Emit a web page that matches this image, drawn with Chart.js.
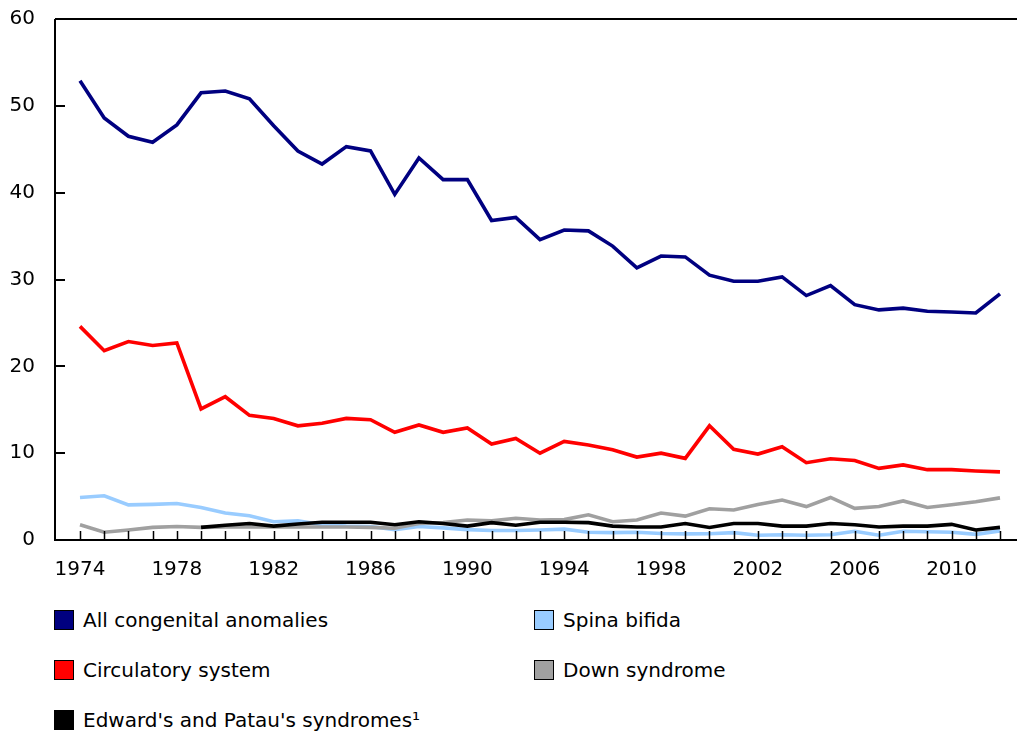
<!DOCTYPE html>
<html>
<head>
<meta charset="utf-8">
<script src="https://cdn.jsdelivr.net/npm/chart.js@4.4.1/dist/chart.umd.min.js"></script>
<style>
  html, body { margin: 0; padding: 0; background: #fff; }
  #wrap { position: relative; width: 1017px; height: 731px; font-family: "DejaVu Sans", Verdana, sans-serif; }
  #c { position: absolute; left: 0; top: 0; }
  .lg { position: absolute; display: flex; align-items: center; font-size: 20px; color: #000; white-space: nowrap; }
  .sw { width: 20px; height: 20px; border: 1.5px solid #000; box-sizing: border-box; margin-right: 9px; }
</style>
</head>
<body>
<div id="wrap">
  <canvas id="c" width="1017" height="580"></canvas>
</div>
<script>
const years = [];
for (let y = 1974; y <= 2012; y++) years.push(y);

const allAnomalies = [52.9, 48.6, 46.5, 45.8, 47.8, 51.5, 51.7, 50.8, 47.7, 44.8,
  43.3, 45.3, 44.8, 39.8, 44.0, 41.5, 41.5, 36.8, 37.15, 34.6,
  35.7, 35.6, 33.85, 31.35, 32.7, 32.6, 30.5, 29.8, 29.8, 30.3,
  28.15, 29.3, 27.1, 26.5, 26.7, 26.35, 26.25, 26.15, 28.35];
const circulatory = [24.6, 21.8, 22.85, 22.4, 22.7, 15.1, 16.5, 14.35, 14.0, 13.15,
  13.45, 14.0, 13.85, 12.4, 13.25, 12.4, 12.9, 11.05, 11.7, 10.0,
  11.35, 10.95, 10.4, 9.55, 10.0, 9.4, 13.15, 10.45, 9.9, 10.75,
  8.9, 9.35, 9.15, 8.25, 8.65, 8.1, 8.1, 7.95, 7.85];
const spinaBifida = [4.9, 5.1, 4.05, 4.1, 4.2, 3.75, 3.1, 2.8, 2.1, 2.2,
  1.75, 1.6, 1.55, 1.2, 1.55, 1.4, 1.2, 1.1, 1.1, 1.15,
  1.25, 0.9, 0.85, 0.9, 0.75, 0.7, 0.72, 0.85, 0.55, 0.6,
  0.55, 0.6, 1.0, 0.55, 1.0, 0.95, 0.9, 0.65, 1.05];
const downSyndrome = [1.75, 0.9, 1.15, 1.45, 1.55, 1.45, 1.5, 1.5, 1.5, 1.5,
  1.5, 1.5, 1.45, 1.35, 1.9, 2.0, 2.3, 2.2, 2.5, 2.3,
  2.35, 2.9, 2.1, 2.3, 3.1, 2.75, 3.6, 3.45, 4.1, 4.6,
  3.85, 4.9, 3.65, 3.85, 4.5, 3.75, 4.05, 4.4, 4.85];
const edwardPatau = [null, null, null, null, null, 1.45, 1.7, 1.9, 1.6, 1.85,
  2.05, 2.05, 2.05, 1.75, 2.1, 1.9, 1.6, 2.0, 1.7, 2.05,
  2.05, 2.0, 1.6, 1.5, 1.5, 1.9, 1.45, 1.9, 1.9, 1.6,
  1.6, 1.9, 1.75, 1.5, 1.6, 1.6, 1.8, 1.15, 1.45];

const seriesNames = ["All congenital anomalies", "Circulatory system", "Spina bifida", "Down syndrome", "Edward's and Patau's syndromes\u00b9"];
const seriesColors = ["#000080", "#ff0000", "#99ccff", "#a0a0a0", "#000000"];
const yTicks = [0, 10, 20, 30, 40, 50, 60];
const labelYears = [1974, 1978, 1982, 1986, 1990, 1994, 1998, 2002, 2006, 2010];

const seriesValues = [allAnomalies, circulatory, spinaBifida, downSyndrome, edwardPatau];
const drawOrder = [4, 3, 2, 1, 0];

const datasets = seriesValues.map((vals, i) => ({
  label: seriesNames[i],
  data: years.map((yr, j) => ({ x: yr, y: vals[j] })),
  borderColor: seriesColors[i],
  backgroundColor: seriesColors[i],
  borderWidth: 3.6,
  pointRadius: 0,
  tension: 0,
  spanGaps: false,
  order: drawOrder[i],
  borderJoinStyle: 'miter'
}));

const axisPlugin = {
  id: 'axisPlugin',
  afterDraw(chart) {
    const ctx = chart.ctx;
    const a = chart.chartArea;
    const xs = chart.scales.x, ys = chart.scales.y;
    ctx.save();
    ctx.strokeStyle = '#000';
    ctx.lineWidth = 2;
    ctx.beginPath();
    ctx.moveTo(a.left, a.top); ctx.lineTo(a.right, a.top);
    ctx.moveTo(a.left, a.top); ctx.lineTo(a.left, a.bottom);
    ctx.moveTo(a.left - 1, a.bottom); ctx.lineTo(a.right, a.bottom);
    ctx.stroke();
    ctx.lineWidth = 1.5;
    ctx.beginPath();
    years.forEach(yr => {
      const px = Math.round(xs.getPixelForValue(yr)) + 0.5;
      ctx.moveTo(px, a.bottom); ctx.lineTo(px, a.bottom - 9);
    });
    ctx.stroke();
    ctx.lineWidth = 2;
    ctx.beginPath();
    yTicks.forEach(v => {
      if (v === 0 || v === 60) return;
      const py = Math.round(ys.getPixelForValue(v));
      ctx.moveTo(a.left, py); ctx.lineTo(a.left + 10, py);
    });
    ctx.stroke();
    ctx.restore();
  }
};

function noPad(scale) {
  scale.paddingTop = 0; scale.paddingBottom = 0;
  scale.paddingLeft = 0; scale.paddingRight = 0;
}

const pxPerYear = 920 / 38;
new Chart(document.getElementById('c'), {
  type: 'line',
  data: { datasets },
  options: {
    responsive: false,
    animation: false,
    layout: { padding: { left: 0, right: 0, top: 19, bottom: 0 } },
    plugins: { legend: { display: false }, tooltip: { enabled: false } },
    scales: {
      x: {
        type: 'linear',
        min: 1974 - 25 / pxPerYear,
        max: 2012 + 17 / pxPerYear,
        afterBuildTicks(scale) { scale.ticks = years.map(v => ({ value: v })); },
        afterFit(scale) { scale.height = 40; noPad(scale); },
        grid: { display: false, drawTicks: false },
        border: { display: false },
        ticks: {
          autoSkip: false, maxRotation: 0, padding: 18,
          color: '#000',
          font: { family: "DejaVu Sans", size: 20 },
          callback: v => labelYears.includes(v) ? String(v) : ''
        }
      },
      y: {
        min: 0, max: 60,
        afterBuildTicks(scale) { scale.ticks = yTicks.map(v => ({ value: v })); },
        afterFit(scale) { scale.width = 55; noPad(scale); },
        grid: { display: false, drawTicks: false },
        border: { display: false },
        ticks: {
          padding: 20, color: '#000',
          font: { family: "DejaVu Sans", size: 20 }
        }
      }
    }
  },
  plugins: [axisPlugin]
});

// HTML legend (two columns)
const legendPos = [[54, 609], [54, 659], [54, 709], [534, 609], [534, 659]];
const legendIdx = [0, 1, 4, 2, 3];
const wrap = document.getElementById('wrap');
legendIdx.forEach((si, k) => {
  const d = document.createElement('div');
  d.className = 'lg';
  d.style.left = legendPos[k][0] + 'px';
  d.style.top = legendPos[k][1] + 'px';
  d.style.height = '21px';
  const sw = document.createElement('span');
  sw.className = 'sw';
  sw.style.background = seriesColors[si];
  const t = document.createElement('span');
  t.textContent = seriesNames[si];
  d.appendChild(sw); d.appendChild(t);
  wrap.appendChild(d);
});
</script>
</body>
</html>
